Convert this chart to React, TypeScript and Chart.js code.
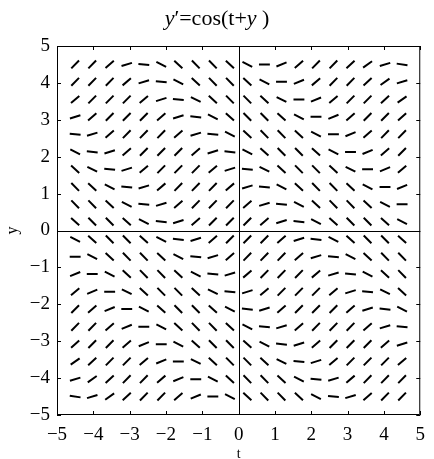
import React, { useEffect, useRef } from "react";
import { Chart, registerables } from "chart.js";

Chart.register(...registerables);

// Grid positions of the slope marks
const tValues = [-4.5, -4.03, -3.55, -3.08, -2.61, -2.13, -1.66, -1.18, -0.71, -0.24, 0.24, 0.71, 1.18, 1.66, 2.13, 2.61, 3.08, 3.55, 4.03, 4.5];
const yValues = [4.5, 4.03, 3.55, 3.08, 2.61, 2.13, 1.66, 1.18, 0.71, 0.24, -0.24, -0.71, -1.18, -1.66, -2.13, -2.61, -3.08, -3.55, -4.03, -4.5];

// Slopes, one row per y value (top to bottom), one entry per t value
const slopeRows = [
  [1, 1, 0.85, 0.3, -0.1, -0.5, -0.9, -1, -1, -0.9, -0.5, 0, 0.4, 0.85, 1, 1, 0.9, 0.7, 0.3, -0.15],
  [1, 1, 1, 0.85, 0.3, -0.1, -0.5, -0.9, -1, -1, -0.9, -0.5, 0, 0.4, 0.85, 1, 1, 0.9, 0.7, 0.3],
  [0.85, 1, 1, 1, 0.85, 0.3, -0.1, -0.5, -0.9, -1, -1, -0.9, -0.5, 0, 0.4, 0.85, 1, 1, 0.9, 0.7],
  [0.3, 0.85, 1, 1, 1, 0.85, 0.3, -0.1, -0.5, -0.9, -1, -1, -0.9, -0.5, 0, 0.4, 0.85, 1, 1, 0.9],
  [-0.1, 0.3, 0.85, 1, 1, 1, 0.85, 0.3, -0.1, -0.5, -0.9, -1, -1, -0.9, -0.5, 0, 0.4, 0.85, 1, 1],
  [-0.5, -0.1, 0.3, 0.85, 1, 1, 1, 0.85, 0.3, -0.1, -0.5, -0.9, -1, -1, -0.9, -0.5, 0, 0.4, 0.85, 1],
  [-0.9, -0.5, -0.1, 0.3, 0.85, 1, 1, 1, 0.85, 0.3, -0.1, -0.5, -0.9, -1, -1, -0.9, -0.5, 0, 0.4, 0.85],
  [-1, -0.9, -0.5, -0.1, 0.3, 0.85, 1, 1, 1, 0.85, 0.3, -0.1, -0.5, -0.9, -1, -1, -0.9, -0.5, 0, 0.4],
  [-1, -1, -0.9, -0.5, -0.1, 0.3, 0.85, 1, 1, 1, 0.85, 0.3, -0.1, -0.5, -0.9, -1, -1, -0.9, -0.5, 0],
  [-0.9, -1, -1, -0.9, -0.5, -0.1, 0.3, 0.85, 1, 1, 1, 0.85, 0.3, -0.1, -0.5, -0.9, -1, -1, -0.9, -0.5],
  [-0.5, -0.9, -1, -1, -0.9, -0.5, -0.1, 0.3, 0.85, 1, 1, 1, 0.85, 0.3, -0.1, -0.5, -0.9, -1, -1, -0.9],
  [0, -0.5, -0.9, -1, -1, -0.9, -0.5, -0.1, 0.3, 0.85, 1, 1, 1, 0.85, 0.3, -0.1, -0.5, -0.9, -1, -1],
  [0.4, 0, -0.5, -0.9, -1, -1, -0.9, -0.5, -0.1, 0.3, 0.85, 1, 1, 1, 0.85, 0.3, -0.1, -0.5, -0.9, -1],
  [0.85, 0.4, 0, -0.5, -0.9, -1, -1, -0.9, -0.5, -0.1, 0.3, 0.85, 1, 1, 1, 0.85, 0.3, -0.1, -0.5, -0.9],
  [1, 0.85, 0.4, 0, -0.5, -0.9, -1, -1, -0.9, -0.5, -0.1, 0.3, 0.85, 1, 1, 1, 0.85, 0.3, -0.1, -0.5],
  [1, 1, 0.85, 0.4, 0, -0.5, -0.9, -1, -1, -0.9, -0.5, -0.1, 0.3, 0.85, 1, 1, 1, 0.85, 0.3, -0.1],
  [0.9, 1, 1, 0.85, 0.4, 0, -0.5, -0.9, -1, -1, -0.9, -0.5, -0.1, 0.3, 0.85, 1, 1, 1, 0.85, 0.3],
  [0.7, 0.9, 1, 1, 0.85, 0.4, 0, -0.5, -0.9, -1, -1, -0.9, -0.5, -0.1, 0.3, 0.85, 1, 1, 1, 0.85],
  [0.3, 0.7, 0.9, 1, 1, 0.85, 0.4, 0, -0.5, -0.9, -1, -1, -0.9, -0.5, -0.1, 0.3, 0.85, 1, 1, 1],
  [-0.15, 0.3, 0.7, 0.9, 1, 1, 0.85, 0.4, 0, -0.5, -0.9, -1, -1, -0.9, -0.5, -0.1, 0.3, 0.85, 1, 1],
];

const tickValues = [-5, -4, -3, -2, -1, 0, 1, 2, 3, 4, 5];
const xTitle = "t";
const yTitle = "y";
const titleParts: [string, boolean][] = [
  ["y", true],
  ["\u2032", false],
  ["=cos(t+", false],
  ["y", true],
  [" )", false],
];

const FONT = "'Liberation Serif', 'Times New Roman', serif";
const HALF_LEN = 0.15; // half length of each slope mark, in axis units

const fmt = (v: number) => (v < 0 ? "\u2212" + Math.abs(v) : String(v));

function buildSegments() {
  const pts: { x: number; y: number | null }[] = [];
  slopeRows.forEach((row, j) => {
    row.forEach((s, i) => {
      const t = tValues[i];
      const y = yValues[j];
      const n = Math.sqrt(1 + s * s);
      const dx = HALF_LEN / n;
      const dy = (HALF_LEN * s) / n;
      pts.push({ x: t - dx, y: y - dy });
      pts.push({ x: t + dx, y: y + dy });
      pts.push({ x: t, y: null });
    });
  });
  return pts;
}

const framePlugin = {
  id: "frame",
  afterDatasetsDraw(chart: any) {
    const { ctx, chartArea: a, scales } = chart;
    const xs = scales.x;
    const ys = scales.y;
    ctx.save();
    ctx.strokeStyle = "#000";
    ctx.lineWidth = 1;
    ctx.beginPath();
    ctx.rect(a.left + 0.5, a.top + 0.5, a.right - a.left - 1, a.bottom - a.top - 1);
    const x0 = Math.round(xs.getPixelForValue(0)) + 0.5;
    const y0 = Math.round(ys.getPixelForValue(0)) + 0.5;
    ctx.moveTo(x0, a.top);
    ctx.lineTo(x0, a.bottom);
    ctx.moveTo(a.left, y0);
    ctx.lineTo(a.right, y0);
    const tl = 4;
    tickValues.forEach((v) => {
      const px = Math.round(xs.getPixelForValue(v)) + 0.5;
      ctx.moveTo(px, a.bottom);
      ctx.lineTo(px, a.bottom - tl);
      ctx.moveTo(px, a.top);
      ctx.lineTo(px, a.top + tl);
      const py = Math.round(ys.getPixelForValue(v)) + 0.5;
      ctx.moveTo(a.left, py);
      ctx.lineTo(a.left + tl, py);
      ctx.moveTo(a.right, py);
      ctx.lineTo(a.right - tl, py);
    });
    ctx.stroke();

    // axis titles
    ctx.fillStyle = "#000";
    ctx.font = `14px ${FONT}`;
    ctx.textAlign = "center";
    ctx.textBaseline = "alphabetic";
    ctx.fillText(xTitle, (a.left + a.right) / 2, 458);
    ctx.save();
    ctx.translate(17, (a.top + a.bottom) / 2);
    ctx.rotate(-Math.PI / 2);
    ctx.font = `16px ${FONT}`;
    ctx.fillText(yTitle, 0, 0);
    ctx.restore();

    // title with italic variable names
    const size = 22;
    const widths = titleParts.map(([txt, it]) => {
      ctx.font = `${it ? "italic " : ""}${size}px ${FONT}`;
      return ctx.measureText(txt).width;
    });
    const total = widths.reduce((p, c) => p + c, 0);
    let x = chart.width / 2 - total / 2;
    ctx.textAlign = "left";
    titleParts.forEach(([txt, it], k) => {
      ctx.font = `${it ? "italic " : ""}${size}px ${FONT}`;
      ctx.fillText(txt, x, 25);
      x += widths[k];
    });
    ctx.restore();
  },
};

export default function App() {
  const ref = useRef<HTMLCanvasElement | null>(null);
  useEffect(() => {
    document.body.style.margin = "0";
    if (!ref.current) return;
    const tickFont = { family: FONT, size: 19 };
    const chart = new Chart(ref.current, {
      type: "scatter",
      data: {
        datasets: [
          {
            data: buildSegments() as any,
            showLine: true,
            borderColor: "#000",
            borderWidth: 2,
            borderCapStyle: "butt",
            pointRadius: 0,
            pointHoverRadius: 0,
            spanGaps: false,
          },
        ],
      },
      options: {
        animation: false,
        responsive: false,
        events: [],
        layout: { padding: { top: 46, right: 8, left: 0, bottom: 0 } },
        plugins: {
          legend: { display: false },
          tooltip: { enabled: false },
          title: { display: false },
        },
        scales: {
          x: {
            type: "linear",
            min: -5,
            max: 5,
            afterFit: (s: any) => {
              s.height = 44;
            },
            grid: { display: false, drawTicks: false },
            border: { display: false },
            ticks: {
              stepSize: 1,
              padding: 9,
              color: "#000",
              font: tickFont,
              maxRotation: 0,
              autoSkip: false,
              callback: (v: any) => fmt(Number(v)),
            },
          },
          y: {
            type: "linear",
            min: -5,
            max: 5,
            afterFit: (s: any) => {
              s.width = 57;
            },
            grid: { display: false, drawTicks: false },
            border: { display: false },
            ticks: {
              stepSize: 1,
              padding: 7,
              color: "#000",
              font: tickFont,
              autoSkip: false,
              callback: (v: any) => fmt(Number(v)),
            },
          },
        },
      },
      plugins: [framePlugin],
    });
    return () => chart.destroy();
  }, []);
  return <canvas ref={ref} width={434} height={459} style={{ display: "block" }} />;
}
